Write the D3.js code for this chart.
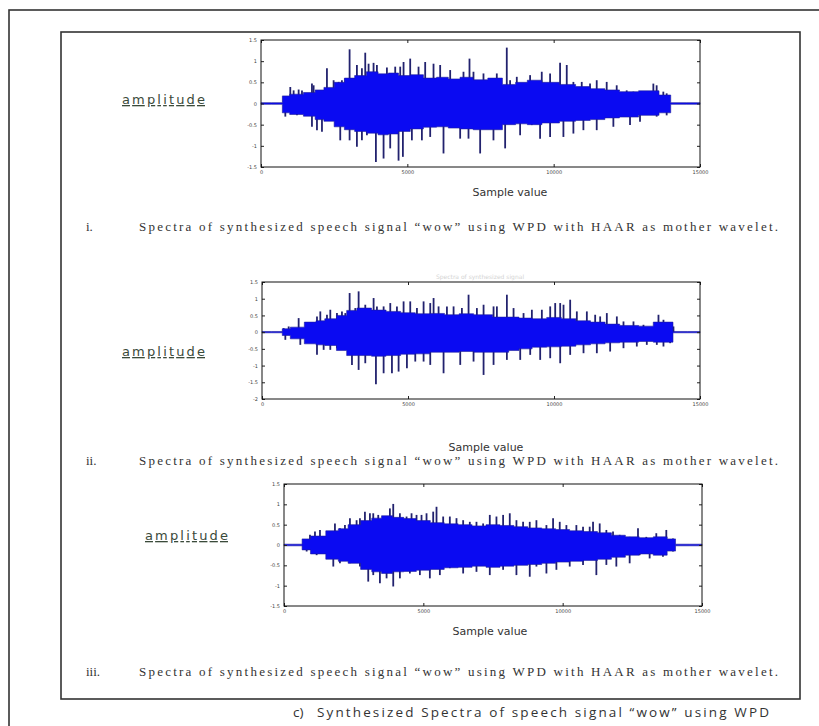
<!DOCTYPE html>
<html>
<head>
    <meta charset="utf-8">
    <script src="https://cdnjs.cloudflare.com/ajax/libs/d3/7.8.5/d3.min.js"></script>
    <style>
        body { margin: 0; background: #fff; }
        .frame { fill: none; stroke: #333; stroke-width: 1.6px; }
        .box { fill: none; stroke: #111; stroke-width: 1px; }
        .tick text { font-family: "DejaVu Sans", sans-serif; font-size: 5px; fill: #444; }
        .amp { font-family: "DejaVu Sans", sans-serif; font-size: 13px; fill: #3a4a3a; text-decoration: underline; }
        .xlab { font-family: "DejaVu Sans", sans-serif; font-size: 11px; fill: #333; }
        .cap { font-family: "Liberation Serif", serif; font-size: 13px; fill: #333; }
        .bottom { font-family: "Open Sans", sans-serif; font-size: 13.5px; fill: #333; }
    </style>
</head>
<body>
    <div id="chart"></div>
    <script>
        const width = 819, height = 726;

        // x ticks shared by all three plots
        const xTicks = [0, 5000, 10000, 15000];
        const yTicksA = [-1.5, -1, -0.5, 0, 0.5, 1, 1.5];
        const yTicksB = [-2, -1.5, -1, -0.5, 0, 0.5, 1, 1.5];

        const captionText = "Spectra of synthesized speech signal \u201cwow\u201d using  WPD with HAAR as mother  wavelet.";
        const captionNums = ["i.", "ii.", "iii."];
        const bottomCaption = "Synthesized Spectra of speech signal \u201cwow\u201d using WPD";

        // body envelope: [sample, upper, lower]
        const body1 = [[0,0.02,-0.02],[700,0.02,-0.02],[760,0.18,-0.22],[1200,0.22,-0.26],[1700,0.26,-0.3],[2000,0.32,-0.38],[2300,0.38,-0.42],[2700,0.5,-0.55],
            [3000,0.6,-0.62],[3400,0.66,-0.66],[3800,0.75,-0.7],[4200,0.7,-0.74],[4500,0.72,-0.72],[4900,0.66,-0.66],[5300,0.68,-0.6],[5800,0.6,-0.56],[6200,0.62,-0.55],[6600,0.58,-0.58],[7000,0.62,-0.6],
            [7500,0.56,-0.62],[8000,0.6,-0.62],[8500,0.45,-0.5],[8900,0.5,-0.48],[9300,0.55,-0.5],[9900,0.5,-0.46],[10500,0.45,-0.42],[11000,0.4,-0.4],[11500,0.35,-0.38],[12000,0.32,-0.34],[12500,0.28,-0.32],
            [13300,0.3,-0.28],[13900,0.2,-0.22],[14100,0.02,-0.02],[15000,0.02,-0.02]];
        const up1 = [[774,0.16],[1001,0.39],[1115,0.31],[1286,0.33],[1400,0.31],[1741,0.47],[1798,0.43],[2253,0.83],[2481,0.55],
            [2652,0.51],[2765,0.55],[2879,0.59],[3027,1.28],[3277,0.91],[3448,0.83],[3562,1.2],[3676,0.94],[3846,0.96],[3960,0.91],
            [4302,0.85],[4586,0.87],[4757,0.87],[4871,0.98],[5098,1.06],[5383,0.87],[5610,0.98],[5895,0.94],[6122,0.91],[6464,0.79],
            [6919,0.75],[7124,1.06],[7260,0.75],[7602,0.71],[8057,0.71],[8398,1.32],[8512,0.55],[8740,0.63],[9195,0.67],[9593,0.75],
            [9878,0.71],[10219,0.96],[10447,0.91],[10674,0.51],[10959,0.51],[11243,0.47],[11471,0.55],[11812,0.51],[12154,0.43],
            [12495,0.31],[12723,0.28],[12950,0.24],[13406,0.47],[13519,0.43],[13747,0.28],[13861,0.24]];
        const down1 = [[831,-0.31],[1229,-0.28],[1741,-0.55],[1912,-0.63],[2083,-0.67],[2708,-0.87],[3027,-0.87],[3277,-1.02],
            [3448,-0.87],[3619,-0.75],[3926,-1.38],[4188,-1.3],[4415,-1.06],[4700,-1.35],[4848,-1.26],[5155,-0.87],[5497,-0.87],
            [5781,-0.79],[6236,-1.18],[6805,-0.83],[7090,-0.83],[7488,-1.18],[7943,-0.87],[8342,-1.06],[8854,-0.75],[9252,-0.51],
            [9536,-0.83],[9878,-0.79],[10333,-0.79],[10674,-0.71],[11016,-0.63],[11471,-0.63],[12040,-0.55],[12609,-0.51],
            [12950,-0.43],[13519,-0.31],[13861,-0.28]];

        const body2 = [[0,0.02,-0.02],[650,0.02,-0.02],[740,0.1,-0.1],[1200,0.15,-0.2],[1700,0.3,-0.35],[2000,0.34,-0.38],[2300,0.4,-0.4],
            [2800,0.5,-0.55],[3000,0.65,-0.7],[3500,0.72,-0.7],[4000,0.66,-0.72],[4500,0.62,-0.7],[5000,0.58,-0.66],[5500,0.55,-0.65],[6000,0.56,-0.6],[6500,0.52,-0.6],
            [7000,0.55,-0.58],[7500,0.52,-0.6],[8300,0.45,-0.6],[8600,0.45,-0.55],[9000,0.42,-0.5],[9500,0.4,-0.45],[10000,0.44,-0.44],[10500,0.4,-0.42],[11000,0.34,-0.38],[11500,0.3,-0.35],
            [12000,0.24,-0.32],[12500,0.2,-0.3],[13300,0.18,-0.28],[13500,0.3,-0.3],[14000,0.3,-0.3],[14150,0.02,-0.02],[15000,0.02,-0.02]];
        const up2 = [[742,0.12],[913,0.17],[1255,0.42],[1654,0.22],[1883,0.47],[1997,0.62],[2225,0.52],[2339,0.67],[2567,0.57],
            [2738,0.62],[2853,0.57],[3001,1.17],[3195,0.72],[3309,1.22],[3537,0.82],[3822,1.02],[3936,0.77],[4165,0.77],[4393,0.87],
            [4621,0.77],[4849,0.92],[5077,0.92],[5306,0.72],[5534,0.92],[5762,0.87],[5876,1.02],[6047,0.77],[6333,0.77],[6561,0.77],
            [6846,0.72],[7074,1.12],[7359,0.72],[7588,0.82],[7930,0.77],[8044,0.77],[8386,1.12],[8615,0.72],[8957,0.57],[9242,0.67],
            [9584,0.67],[9870,0.77],[10041,0.87],[10212,0.87],[10326,0.82],[10554,0.97],[10782,0.62],[11125,0.62],[11410,0.52],
            [11581,0.47],[11809,0.57],[12152,0.47],[12380,0.32],[12722,0.32],[13064,0.22],[13578,0.52],[13749,0.37],[13977,0.22],
            [14091,0.17]];
        const down2 = [[799,-0.23],[1312,-0.38],[1883,-0.68],[2111,-0.53],[2339,-0.53],[2567,-0.48],[2853,-0.53],[3081,-0.98],
            [3309,-1.13],[3537,-0.93],[3902,-1.56],[4165,-1.23],[4450,-1.23],[4678,-1.18],[4963,-1.08],[5249,-0.88],[5534,-0.88],
            [5762,-0.98],[6218,-1.23],[6789,-0.98],[7245,-0.88],[7588,-1.28],[7930,-0.98],[8386,-0.83],[8843,-0.83],[9185,-0.68],
            [9527,-0.83],[9870,-0.78],[10212,-0.93],[10554,-0.68],[11011,-0.63],[11467,-0.63],[11923,-0.58],[12380,-0.48],
            [12836,-0.43],[13178,-0.38],[13521,-0.38],[13749,-0.43],[13977,-0.33]];

        const body3 = [[0,0.02,-0.02],[600,0.02,-0.02],[700,0.15,-0.12],[1200,0.22,-0.22],[1800,0.35,-0.35],[2100,0.4,-0.4],[2500,0.5,-0.45],
            [3000,0.6,-0.6],[3300,0.66,-0.66],[3700,0.72,-0.7],[4100,0.68,-0.66],[4500,0.65,-0.65],[5000,0.6,-0.62],[5500,0.55,-0.6],[6000,0.52,-0.56],[6500,0.5,-0.55],[7000,0.47,-0.52],[7500,0.5,-0.55],
            [8000,0.48,-0.52],[8500,0.45,-0.5],[9000,0.42,-0.48],[9500,0.4,-0.45],[10000,0.38,-0.42],[10500,0.35,-0.4],[11000,0.33,-0.38],[11500,0.3,-0.35],[12000,0.24,-0.3],[12500,0.2,-0.25],[13000,0.18,-0.22],[13500,0.2,-0.25],
            [14000,0.15,-0.15],[14100,0.02,-0.02],[15000,0.02,-0.02]];
        const up3 = [[753,0.12],[932,0.25],[1111,0.33],[1291,0.37],[1589,0.33],[1828,0.53],[2008,0.41],[2187,0.49],[2366,0.66],
            [2605,0.61],[2725,0.66],[2904,0.82],[3083,0.78],[3203,0.78],[3382,0.74],[3561,0.61],[3800,0.9],[3920,1.01],[4159,0.78],
            [4398,0.7],[4577,0.78],[4756,0.74],[4935,0.74],[5115,0.78],[5354,0.82],[5473,0.94],[5712,0.7],[5951,0.7],[6190,0.66],
            [6429,0.61],[6668,0.57],[6907,0.57],[7146,0.53],[7385,0.74],[7624,0.7],[7863,0.74],[8102,0.78],[8341,0.61],[8580,0.57],
            [8819,0.57],[9058,0.61],[9417,0.49],[9656,0.66],[9895,0.57],[10134,0.49],[10492,0.49],[10731,0.45],[10970,0.45],
            [11090,0.57],[11329,0.53],[11568,0.37],[11807,0.33],[12046,0.25],[12404,0.2],[12703,0.41],[13002,0.2],[13360,0.29],
            [13719,0.37],[13958,0.16]];
        const down3 = [[813,-0.16],[1171,-0.25],[1769,-0.53],[2008,-0.45],[2366,-0.45],[2725,-0.53],[3023,-0.9],[3203,-0.74],
            [3442,-0.94],[3681,-0.82],[3920,-1.02],[4159,-0.82],[4517,-0.7],[4876,-0.74],[5234,-0.82],[5593,-0.74],[5951,-0.57],
            [6429,-0.7],[6907,-0.66],[7385,-0.74],[7863,-0.61],[8341,-0.74],[8819,-0.78],[9058,-0.53],[9417,-0.7],[9775,-0.61],
            [10253,-0.53],[10731,-0.49],[11209,-0.74],[11568,-0.49],[11926,-0.53],[12404,-0.45],[12763,-0.25],[13121,-0.33],
            [13599,-0.29],[13958,-0.16]];

        const panels = [
            { body: body1, up: up1, down: down1, yTicks: yTicksA, x0: 261, x1: 700, y0: 40, y1: 167,
              ampX: 122, ampY: 104, labX: 510, labY: 196, capY: 231 },
            { body: body2, up: up2, down: down2, yTicks: yTicksB, x0: 262, x1: 700, y0: 282, y1: 399,
              ampX: 122, ampY: 356, labX: 486, labY: 451, capY: 465 },
            { body: body3, up: up3, down: down3, yTicks: yTicksA, x0: 284, x1: 702, y0: 484, y1: 606,
              ampX: 145, ampY: 540, labX: 490, labY: 635, capY: 676 }
        ];

        const svg = d3.select("#chart").append("svg").attr("width", width).attr("height", height);

        // page frames
        svg.append("rect").attr("class", "frame").attr("x", 9).attr("y", 10).attr("width", 830).attr("height", 730);
        svg.append("rect").attr("class", "frame").attr("x", 61).attr("y", 32).attr("width", 739).attr("height", 667);

        // faint ghost title above second plot
        svg.append("text").attr("x", 480).attr("y", 279).attr("text-anchor", "middle")
            .style("font-family", "DejaVu Sans").style("font-size", "6px").style("fill", "#d4d4d4")
            .text("Spectra   of   synthesized   signal");

        panels.forEach((p, i) => {
            const x = d3.scaleLinear().domain([0, 15000]).range([p.x0, p.x1]);
            const y = d3.scaleLinear().domain(d3.extent(p.yTicks)).range([p.y1, p.y0]);
            const g = svg.append("g");

            // spikes first, the body covers their inner part
            g.selectAll(".spk").data(p.up.concat(p.down)).enter().append("line")
                .attr("x1", d => x(d[0])).attr("x2", d => x(d[0]))
                .attr("y1", y(0)).attr("y2", d => y(d[1]))
                .attr("stroke", "#22226e").attr("stroke-width", 1.8);

            const area = d3.area()
                .x(d => x(d[0])).y0(d => y(d[2])).y1(d => y(d[1]))
                .curve(d3.curveStep);
            g.append("path").datum(p.body).attr("d", area)
                .attr("fill", "#0a0af2").attr("stroke", "#1d1d9a").attr("stroke-width", 0.6);

            // axes with inner ticks on all four sides
            const bottom = d3.axisBottom(x).tickValues(xTicks).tickSize(-3).tickPadding(3).tickFormat(d3.format("d"));
            const top = d3.axisTop(x).tickValues(xTicks).tickSize(-3).tickFormat("");
            const left = d3.axisLeft(y).tickValues(p.yTicks).tickSize(-3).tickPadding(4).tickFormat(d => String(d));
            const right = d3.axisRight(y).tickValues(p.yTicks).tickSize(-3).tickFormat("");
            [[bottom, 0, p.y1], [top, 0, p.y0], [left, p.x0, 0], [right, p.x1, 0]].forEach(([ax, tx, ty]) => {
                const a = g.append("g").attr("transform", `translate(${tx},${ty})`).call(ax);
                a.select(".domain").remove();
                a.selectAll("line").attr("stroke", "#222");
            });
            g.append("rect").attr("class", "box").attr("x", p.x0).attr("y", p.y0)
                .attr("width", p.x1 - p.x0).attr("height", p.y1 - p.y0);

            svg.append("text").attr("class", "amp").attr("x", p.ampX).attr("y", p.ampY)
                .attr("textLength", 83).attr("lengthAdjust", "spacing").text("amplitude");
            svg.append("text").attr("class", "xlab").attr("x", p.labX).attr("y", p.labY)
                .attr("text-anchor", "middle").text("Sample value");
            svg.append("text").attr("class", "cap").attr("x", 86).attr("y", p.capY).text(captionNums[i]);
            svg.append("text").attr("class", "cap").attr("x", 139).attr("y", p.capY)
                .attr("textLength", 639).attr("lengthAdjust", "spacing").text(captionText);
        });

        svg.append("text").attr("class", "bottom").attr("x", 293).attr("y", 717).text("c)");
        svg.append("text").attr("class", "bottom").attr("x", 317).attr("y", 717)
            .attr("textLength", 452).attr("lengthAdjust", "spacing").text(bottomCaption);
    </script>
</body>
</html>
